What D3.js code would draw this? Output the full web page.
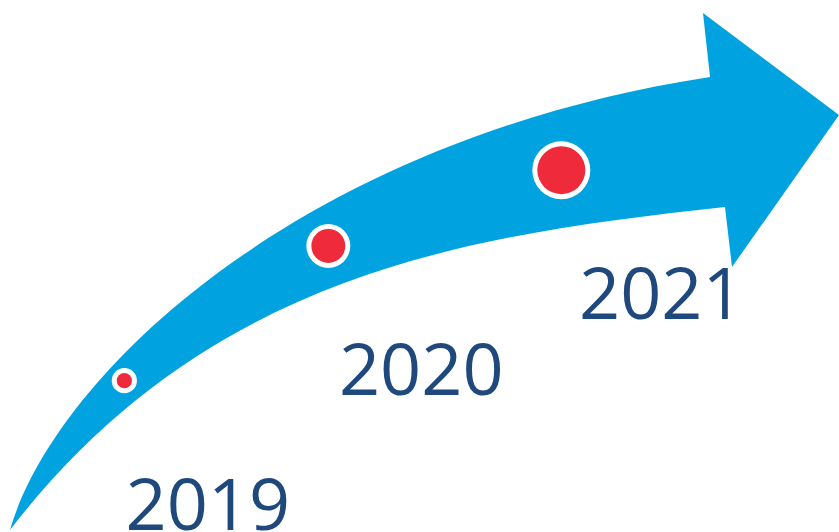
<!DOCTYPE html>
<html lang="en">
  <head>
    <meta charset="utf-8" />
    <title>Timeline Arrow</title>
    <style>
      body {
        margin: 0;
        background: #fff;
      }
      svg {
        display: block;
      }
      .year {
        font-family: "Open Sans", sans-serif;
        font-size: 72px;
        fill: #1f497d;
      }
    </style>
  </head>
  <body>
    <svg width="839" height="532"></svg>

    <script src="https://d3js.org/d3.v7.min.js"></script>
    <script>
      const years = [2019, 2020, 2021];
      const dotValues = [1, 5, 10];

      const svg = d3.select("svg");

      // arrow outline (shape only): two cubic edges + head
      const p = d3.path();
      p.moveTo(10, 530);
      p.bezierCurveTo(55, 375, 300, 140, 710, 77);
      p.lineTo(703, 13);
      p.lineTo(839, 115);
      p.lineTo(732, 267);
      p.lineTo(725, 207);
      p.bezierCurveTo(475, 234.5, 210, 270, 10, 530);
      p.closePath();

      svg.append("path").attr("d", p.toString()).attr("fill", "#00a3df");

      // hidden centre line the dots ride on
      const spine = [[10, 530], [124, 381], [324, 248], [562, 170], [717, 142]];
      const spinePath = svg
        .append("path")
        .attr("d", d3.line().curve(d3.curveCatmullRom.alpha(0.5))(spine))
        .attr("fill", "none")
        .attr("stroke", "none");
      const total = spinePath.node().getTotalLength();

      const along = d3.scaleLinear().domain([2019, 2021]).range([0.225, 0.811]);
      const radius = d3.scaleSqrt().domain([0, 10]).range([0, 24]);

      const pts = years.map((y, i) => {
        const pt = spinePath.node().getPointAtLength(along(y) * total);
        return { year: y, x: pt.x, y: pt.y, r: radius(dotValues[i]) };
      });

      const dots = svg.append("g").selectAll("g").data(pts).join("g");
      dots
        .append("circle")
        .attr("cx", (d) => d.x)
        .attr("cy", (d) => d.y)
        .attr("r", (d) => d.r + 5)
        .attr("fill", "#fff");
      dots
        .append("circle")
        .attr("cx", (d) => d.x)
        .attr("cy", (d) => d.y)
        .attr("r", (d) => d.r)
        .attr("fill", "#ee2a3b");

      svg
        .append("g")
        .selectAll("text")
        .data(pts)
        .join("text")
        .attr("class", "year")
        .attr("text-anchor", "middle")
        .attr("x", (d) => d.x + 76 + d.r)
        .attr("y", (d) => d.y + 149)
        .text((d) => d.year);
    </script>
  </body>
</html>
